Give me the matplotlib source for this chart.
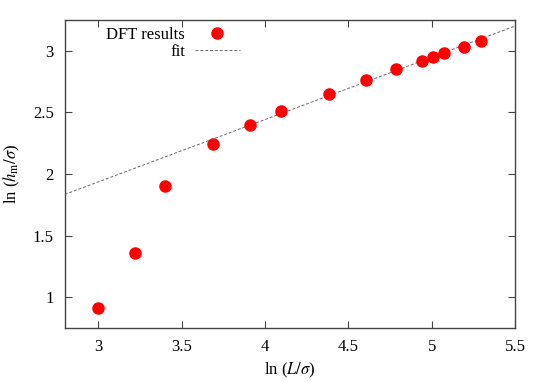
import numpy as np
import matplotlib
matplotlib.use('Agg')
import matplotlib.pyplot as plt

# ln(L/sigma) and ln(h_m/sigma)
ln_L = [2.996, 3.219, 3.401, 3.689, 3.912, 4.094, 4.382,
        4.605, 4.787, 4.942, 5.011, 5.075, 5.193, 5.298]
ln_h = [0.916, 1.357, 1.903, 2.241, 2.397, 2.511, 2.651,
        2.762, 2.851, 2.918, 2.948, 2.978, 3.032, 3.081]

# linear fit parameters
fit_slope = 0.5056
fit_intercept = 0.419

plt.rcParams['font.family'] = 'Liberation Serif'
plt.rcParams['mathtext.fontset'] = 'stix'

fig = plt.figure(figsize=(5.45, 3.82), dpi=100)
ax = fig.add_axes([0.119, 0.141, 0.826, 0.807])

xs = np.array([2.8, 5.5])
ax.plot(xs, fit_intercept + fit_slope * xs, color='#666666', lw=0.7,
        ls=(0, (3, 2)), label='fit', zorder=3)
ax.plot(ln_L, ln_h, 'o', color='#ff0000', ms=8, mec='#ff0000',
        label='DFT results', linestyle='none', zorder=4)

ax.set_xlim(2.8, 5.5)
ax.set_ylim(0.75, 3.25)
ax.set_xticks([3, 3.5, 4, 4.5, 5, 5.5])
ax.set_xticklabels(['3', '3.5', '4', '4.5', '5', '5.5'])
ax.set_yticks([1, 1.5, 2, 2.5, 3])
ax.set_yticklabels(['1', '1.5', '2', '2.5', '3'])
ax.tick_params(direction='in', top=True, right=True, length=5,
               width=0.8, color='#444444', labelsize=12, pad=8)
for s in ax.spines.values():
    s.set_color('#444444')
    s.set_linewidth(1.0)

ax.set_xlabel(r'ln ($L/\sigma$)', fontsize=12, labelpad=4)
ax.set_ylabel(r'ln ($h_{\rm m}/\sigma$)', fontsize=12, labelpad=8)

h, l = ax.get_legend_handles_labels()
ax.legend(h[::-1], l[::-1], loc='upper left', bbox_to_anchor=(0.077, 1.0),
          frameon=False, markerfirst=False, fontsize=12, handlelength=2.7,
          handletextpad=0.6, labelspacing=0.1, borderaxespad=0.0)

fig.savefig('out.png', dpi=100)
